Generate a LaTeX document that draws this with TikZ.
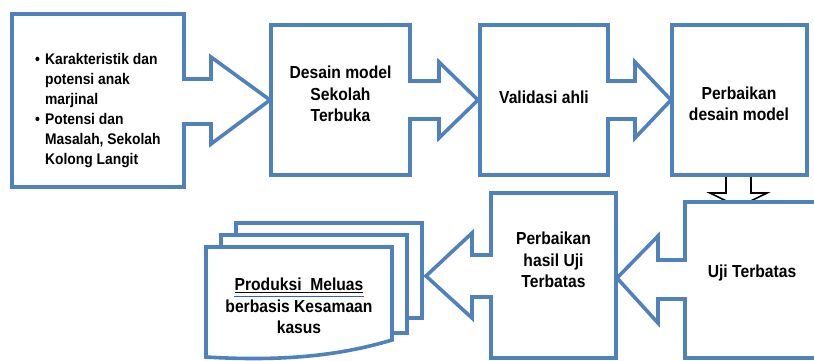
\documentclass[tikz,border=0pt]{standalone}
\usepackage{fontspec}
\setmainfont{Liberation Sans}[FakeStretch=0.9]
\begin{document}
\begin{tikzpicture}[x=1pt,y=-1pt,
  blk/.style={draw=boxblue,line width=3.6pt,fill=white,line join=miter},
  txt/.style={font=\bfseries\fontsize{17.4}{21.5}\selectfont,align=center,inner sep=0pt},
  downarr/.style={draw=black,line width=1.6pt,fill=white}]
\definecolor{boxblue}{RGB}{79,129,189}
\useasboundingbox (0,0) rectangle (814,360);
\begin{scope}
\clip (0,0) rectangle (814,360);
% box 1
\draw[blk] (12,14) -- (184,14) -- (184,79) -- (211,79) -- (211,57) -- (270,100) -- (211,144) -- (211,124) -- (184,124) -- (184,187) -- (12,187) -- cycle;
% box 2
\draw[blk] (271,25) -- (410,25) -- (410,81) -- (439,81) -- (439,62) -- (478,100) -- (439,138) -- (439,119) -- (410,119) -- (410,175) -- (271,175) -- cycle;
% box 3
\draw[blk] (480,25) -- (608,25) -- (608,81) -- (635,81) -- (635,62) -- (671,100) -- (635,138) -- (635,119) -- (608,119) -- (608,175) -- (480,175) -- cycle;
% down arrow
\draw[downarr] (726,170) -- (751,170) -- (751,193) -- (767,193) -- (738.5,207) -- (710,193) -- (726,193) -- cycle;
% box 4
\draw[blk] (672,25) rectangle (807,175);
% box 5
\draw[blk] (685,202) -- (830,202) -- (830,358) -- (685,358) -- (685,299) -- (658,299) -- (658,323) -- (617,278) -- (658,236) -- (658,260) -- (685,260) -- cycle;
% box 6
\draw[blk] (491,193) -- (616,193) -- (616,358) -- (491,358) -- (491,297) -- (472,297) -- (472,318) -- (426,276) -- (472,233) -- (472,255) -- (491,255) -- cycle;
% documents
\draw[blk] (236,223) rectangle (422,318);
\draw[blk] (221,235) rectangle (407,333);
\draw[blk] (206,247) -- (392,247) -- (392,340) .. controls (345,354) and (290,362) .. (206,357) -- cycle;
\end{scope}
% texts
\node[inner sep=0pt,anchor=west,font=\bfseries\fontsize{15.4}{20}\selectfont] (t1) at (35,110) {%
\begin{tabular}{@{}l@{\hspace{5pt}}l@{}}
\textbullet & Karakteristik dan\\
 & potensi anak\\
 & marjinal\\
\textbullet & Potensi dan\\
 & Masalah, Sekolah\\
 & Kolong Langit
\end{tabular}};
\node[txt] (t2) at (340.5,94) {Desain model\\Sekolah\\Terbuka};
\node[txt] (t3) at (544,97) {Validasi ahli};
\node[txt] (t4) at (739,104) {Perbaikan\\desain model};
\node[txt] (t5) at (752,273) {Uji Terbatas};
\node[txt] (t6) at (553.5,260) {Perbaikan\\hasil Uji\\Terbatas};
\node[txt] (t7) at (299,306) {\underline{Produksi\ \ Meluas}\\berbasis Kesamaan\\kasus};
\draw[boxblue!70!blue,line width=1pt] ([xshift=-65pt,yshift=-19pt]t7.north) -- ([xshift=65pt,yshift=-19pt]t7.north);
\end{tikzpicture}
\end{document}
